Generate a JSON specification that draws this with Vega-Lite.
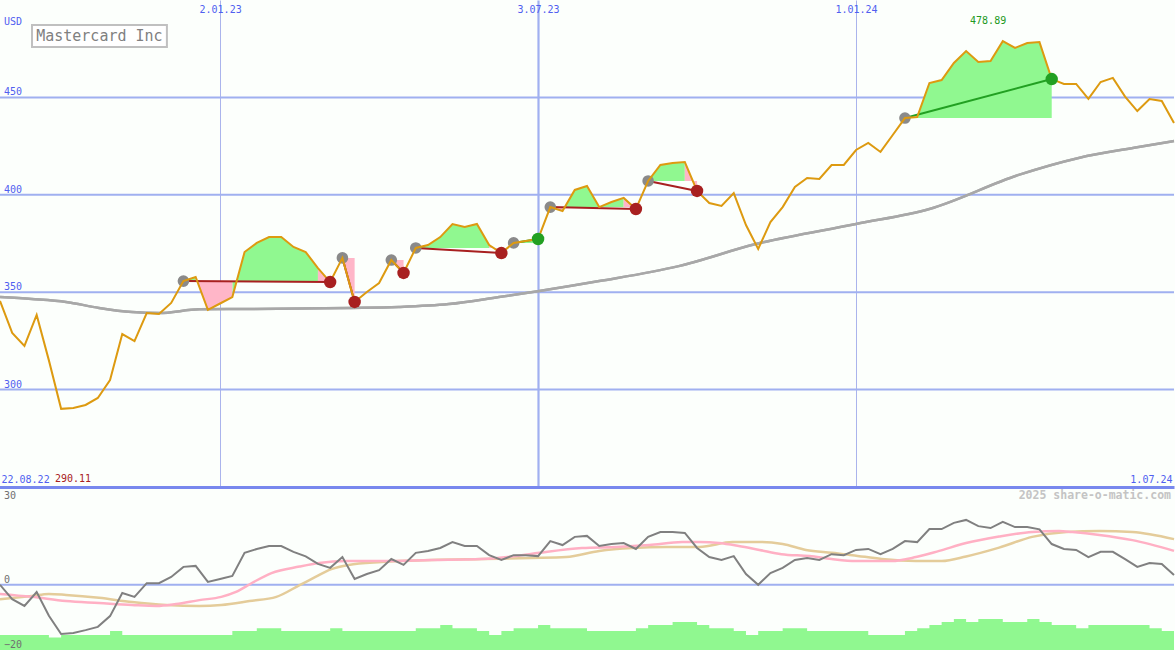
{
"$schema":"https://vega.github.io/schema/vega-lite/v6.json",
"background":"#fcfffc",
"padding":{"left":-6,"top":0,"right":0,"bottom":0},
"spacing":0,
"config":{"view":{"stroke":null},"text":{"font":"DejaVu Sans Mono"}},
"datasets":{
"wk":[
{"w":0,"p":345.5,"m":0,"v":-15.4},{"w":1,"p":329.1,"m":-4.4,"v":-15.4},{"w":2,"p":322.4,"m":-6.5,"v":-15.4},{"w":3,"p":338.3,"m":-2.2,"v":-15.4},{"w":4,"p":315,"m":-9.5,"v":-16.2},{"w":5,"p":290.11,"m":-15.1,"v":-15.4},{"w":6,"p":290.6,"m":-14.8,"v":-15.4},{"w":7,"p":292.1,"m":-13.9,"v":-15.4},{"w":8,"p":295.7,"m":-12.9,"v":-15.4},{"w":9,"p":304.9,"m":-9.6,"v":-14.2},
{"w":10,"p":328.5,"m":-2.5,"v":-15.4},{"w":11,"p":324.9,"m":-3.7,"v":-15.4},{"w":12,"p":339.3,"m":0.5,"v":-15.4},{"w":13,"p":338.8,"m":0.5,"v":-15.4},{"w":14,"p":344.5,"m":2.4,"v":-15.4},{"w":15,"p":355.7,"m":5.5,"v":-15.4},{"w":16,"p":357.8,"m":5.8,"v":-15.4},{"w":17,"p":340.9,"m":0.9,"v":-15.4},{"w":18,"p":344.2,"m":1.8,"v":-15.4},{"w":19,"p":347.5,"m":2.7,"v":-14.2},
{"w":20,"p":370.6,"m":9.8,"v":-14.2},{"w":21,"p":375.3,"m":11,"v":-13.3},{"w":22,"p":378.3,"m":11.9,"v":-13.3},{"w":23,"p":378.3,"m":11.9,"v":-14.2},{"w":24,"p":373.2,"m":10.1,"v":-14.2},{"w":25,"p":370.6,"m":8.7,"v":-14.2},{"w":26,"p":362.4,"m":6.4,"v":-14.2},{"w":27,"p":355.2,"m":5.2,"v":-13.3},{"w":28,"p":367.6,"m":8.5,"v":-14.2},{"w":29,"p":345,"m":1.8,"v":-14.2},
{"w":30,"p":350.1,"m":3.3,"v":-14.2},{"w":31,"p":354.7,"m":4.5,"v":-14.2},{"w":32,"p":366.5,"m":7.9,"v":-14.2},{"w":33,"p":359.9,"m":6.1,"v":-14.2},{"w":34,"p":372.7,"m":9.8,"v":-13.3},{"w":35,"p":374.2,"m":10.4,"v":-13.3},{"w":36,"p":378.3,"m":11.3,"v":-12.3},{"w":37,"p":385,"m":13.1,"v":-13.3},{"w":38,"p":383.5,"m":11.9,"v":-13.3},{"w":39,"p":385,"m":11.9,"v":-14.2},
{"w":40,"p":374.2,"m":9.1,"v":-15.4},{"w":41,"p":370.1,"m":7.6,"v":-14.2},{"w":42,"p":375.3,"m":9.1,"v":-13.3},{"w":43,"p":376.3,"m":9.1,"v":-13.3},{"w":44,"p":377.3,"m":8.8,"v":-12.3},{"w":45,"p":393.7,"m":13.4,"v":-13.3},{"w":46,"p":391.7,"m":12.2,"v":-13.3},{"w":47,"p":402.5,"m":14.7,"v":-13.3},{"w":48,"p":404.5,"m":15,"v":-14.2},{"w":49,"p":393.7,"m":11.9,"v":-14.2},
{"w":50,"p":396.3,"m":12.5,"v":-14.2},{"w":51,"p":398.4,"m":12.8,"v":-14.2},{"w":52,"p":392.7,"m":11,"v":-13.3},{"w":53,"p":407.1,"m":14.7,"v":-12.3},{"w":54,"p":415.3,"m":16.2,"v":-12.3},{"w":55,"p":416.3,"m":16.2,"v":-11.4},{"w":56,"p":416.8,"m":15.9,"v":-11.4},{"w":57,"p":402,"m":11.3,"v":-12.3},{"w":58,"p":395.8,"m":8.5,"v":-13.3},{"w":59,"p":394.3,"m":7.6,"v":-13.3},
{"w":60,"p":400.9,"m":8.8,"v":-14.2},{"w":61,"p":384.5,"m":3.3,"v":-15.4},{"w":62,"p":372.2,"m":0,"v":-14.2},{"w":63,"p":386,"m":3.6,"v":-14.2},{"w":64,"p":393.7,"m":5.2,"v":-13.3},{"w":65,"p":404,"m":7.6,"v":-13.3},{"w":66,"p":408.6,"m":8.2,"v":-14.2},{"w":67,"p":408.1,"m":7.6,"v":-14.2},{"w":68,"p":415.3,"m":9.4,"v":-14.2},{"w":69,"p":415.3,"m":9.1,"v":-14.2},
{"w":70,"p":423,"m":10.7,"v":-14.2},{"w":71,"p":426.6,"m":11,"v":-15.4},{"w":72,"p":422,"m":9.4,"v":-15.4},{"w":73,"p":430.7,"m":11,"v":-15.4},{"w":74,"p":439.4,"m":13.4,"v":-14.2},{"w":75,"p":439.9,"m":13.1,"v":-13.3},{"w":76,"p":457.4,"m":17.1,"v":-12.3},{"w":77,"p":458.9,"m":17.1,"v":-11.4},{"w":78,"p":467.7,"m":19,"v":-10.5},{"w":79,"p":473.8,"m":19.9,"v":-11.4},
{"w":80,"p":468.2,"m":18,"v":-10.5},{"w":81,"p":468.7,"m":17.4,"v":-10.5},{"w":82,"p":478.89,"m":19.3,"v":-11.4},{"w":83,"p":475.4,"m":17.7,"v":-11.4},{"w":84,"p":477.9,"m":17.7,"v":-10.5},{"w":85,"p":478.4,"m":17,"v":-11.4},{"w":86,"p":459.4,"m":12.5,"v":-12.3},{"w":87,"p":456.9,"m":11,"v":-12.3},{"w":88,"p":456.9,"m":10.7,"v":-13.3},{"w":89,"p":449.2,"m":8.5,"v":-12.3},
{"w":90,"p":457.9,"m":10.1,"v":-12.3},{"w":91,"p":460,"m":10.1,"v":-12.3},{"w":92,"p":450.4,"m":7.9,"v":-12.3},{"w":93,"p":443,"m":5.5,"v":-12.3},{"w":94,"p":449.2,"m":6.7,"v":-13.3},{"w":95,"p":448.2,"m":6.4,"v":-14.2},{"w":96,"p":436.9,"m":3,"v":-14.2}
],
"ma":[
{"w":0,"a":347.5},{"w":2.6,"a":346.5},{"w":5.4,"a":345},{"w":8.1,"a":341.9},{"w":10.8,"a":339.8},{"w":13.0,"a":339.3},{"w":16.3,"a":341.2},{"w":20.4,"a":341.4},{"w":28.5,"a":341.9},{"w":32.6,"a":342.4},{"w":36.7,"a":343.9},{"w":40.8,"a":347.5},{"w":44.1,"a":350.6},{"w":49.0,"a":355.7},{"w":55.5,"a":363.4},{"w":61.8,"a":374.7},{"w":70.0,"a":385},{"w":76.0,"a":392.7},{"w":83.3,"a":410.2},{"w":88.2,"a":418.9},{"w":93.1,"a":424.5},{"w":96,"a":427.6}
],
"pk":[
{"w":0,"k":-2.8},{"w":2.6,"k":-3.7},{"w":5.4,"k":-5},{"w":8.1,"k":-5.6},{"w":10.8,"k":-6.2},{"w":12.8,"k":-6.5},{"w":14.4,"k":-5.9},{"w":16.3,"k":-4.7},{"w":18.1,"k":-3.7},{"w":19.3,"k":-2.2},{"w":20.6,"k":0.55},{"w":22.2,"k":3.6},{"w":24.5,"k":5.6},{"w":26.1,"k":6.7},{"w":28.3,"k":7.3},{"w":31.2,"k":7.3},{"w":35.3,"k":7.6},{"w":39.4,"k":7.9},{"w":42.2,"k":8.8},{"w":44.1,"k":9.8},{"w":47.6,"k":11.3},{"w":50.4,"k":11.6},{"w":53.1,"k":12.2},{"w":55.8,"k":13.1},{"w":57.2,"k":13.1},{"w":58.8,"k":12.8},{"w":60.4,"k":11.9},{"w":62.1,"k":10.7},{"w":63.9,"k":9.4},{"w":66.2,"k":8.8},{"w":68.0,"k":7.9},{"w":70.0,"k":7.3},{"w":72.9,"k":7.3},{"w":74.9,"k":8.5},{"w":76.8,"k":10.4},{"w":79.0,"k":12.8},{"w":81.7,"k":14.8},{"w":84.4,"k":16.2},{"w":86.6,"k":16.5},{"w":87.7,"k":16.2},{"w":89.9,"k":15.3},{"w":92.6,"k":13.7},{"w":96,"k":10.4}
],
"tn":[
{"w":0,"t":-4.4},{"w":2.6,"t":-3.4},{"w":4.0,"t":-2.8},{"w":5.4,"t":-3.1},{"w":8.1,"t":-4},{"w":10.8,"t":-5.3},{"w":13.6,"t":-6.2},{"w":16.3,"t":-6.5},{"w":18.1,"t":-6.2},{"w":20.4,"t":-5},{"w":22.6,"t":-3.7},{"w":24.5,"t":-0.1},{"w":25.8,"t":2.4},{"w":27.1,"t":4.8},{"w":28.5,"t":6.1},{"w":31.2,"t":7},{"w":35.3,"t":7.6},{"w":39.4,"t":7.9},{"w":43.5,"t":8.2},{"w":46.3,"t":8.5},{"w":49.0,"t":10.4},{"w":51.7,"t":11.3},{"w":54.5,"t":11.6},{"w":57.2,"t":11.6},{"w":59.9,"t":13.1},{"w":62.3,"t":13.1},{"w":64.0,"t":12.5},{"w":65.9,"t":10.7},{"w":68.0,"t":9.8},{"w":69.7,"t":9.1},{"w":72.1,"t":7.9},{"w":74.9,"t":7.3},{"w":77.0,"t":7.3},{"w":79.0,"t":8.7},{"w":81.7,"t":11.4},{"w":84.4,"t":14.7},{"w":87.2,"t":16.2},{"w":89.9,"t":16.5},{"w":92.6,"t":16.2},{"w":96,"t":14}
],
"tr":[
{"id":1,"w":15,"p":355.7,"kind":"entry","res":"loss"},{"id":1,"w":27,"p":355.2,"kind":"exit","res":"loss"},
{"id":2,"w":28,"p":367.6,"kind":"entry","res":"loss"},{"id":2,"w":29,"p":345,"kind":"exit","res":"loss"},
{"id":3,"w":32,"p":366.5,"kind":"entry","res":"loss"},{"id":3,"w":33,"p":359.9,"kind":"exit","res":"loss"},
{"id":4,"w":34,"p":372.7,"kind":"entry","res":"loss"},{"id":4,"w":41,"p":370.1,"kind":"exit","res":"loss"},
{"id":5,"w":42,"p":375.3,"kind":"entry","res":"win"},{"id":5,"w":44,"p":377.3,"kind":"exit","res":"win"},
{"id":6,"w":45,"p":393.7,"kind":"entry","res":"loss"},{"id":6,"w":52,"p":392.7,"kind":"exit","res":"loss"},
{"id":7,"w":53,"p":407.1,"kind":"entry","res":"loss"},{"id":7,"w":57,"p":402,"kind":"exit","res":"loss"},
{"id":8,"w":74,"p":439.4,"kind":"entry","res":"win"},{"id":8,"w":86,"p":459.4,"kind":"exit","res":"win"}
],
"fl":[
{"s":1,"c":"up","w":15,"p":355.7,"lv":355.7},{"s":1,"c":"up","w":16,"p":357.8,"lv":355.7},
{"s":2,"c":"dn","w":16,"p":357.8,"lv":355.7},{"s":2,"c":"dn","w":17,"p":340.9,"lv":355.7},{"s":2,"c":"dn","w":18,"p":344.2,"lv":355.7},{"s":2,"c":"dn","w":19,"p":347.5,"lv":355.7},
{"s":3,"c":"up","w":19,"p":347.5,"lv":355.7},{"s":3,"c":"up","w":20,"p":370.6,"lv":355.7},{"s":3,"c":"up","w":21,"p":375.3,"lv":355.7},{"s":3,"c":"up","w":22,"p":378.3,"lv":355.7},{"s":3,"c":"up","w":23,"p":378.3,"lv":355.7},{"s":3,"c":"up","w":24,"p":373.2,"lv":355.7},{"s":3,"c":"up","w":25,"p":370.6,"lv":355.7},{"s":3,"c":"up","w":26,"p":362.4,"lv":355.7},
{"s":4,"c":"dn","w":26,"p":362.4,"lv":355.7},{"s":4,"c":"dn","w":27,"p":355.2,"lv":355.7},
{"s":5,"c":"dn","w":28,"p":367.6,"lv":367.6},{"s":5,"c":"dn","w":29,"p":345,"lv":367.6},
{"s":6,"c":"dn","w":32,"p":366.5,"lv":366.5},{"s":6,"c":"dn","w":33,"p":359.9,"lv":366.5},
{"s":7,"c":"up","w":34,"p":372.7,"lv":372.7},{"s":7,"c":"up","w":35,"p":374.2,"lv":372.7},{"s":7,"c":"up","w":36,"p":378.3,"lv":372.7},{"s":7,"c":"up","w":37,"p":385,"lv":372.7},{"s":7,"c":"up","w":38,"p":383.5,"lv":372.7},{"s":7,"c":"up","w":39,"p":385,"lv":372.7},{"s":7,"c":"up","w":40,"p":374.2,"lv":372.7},
{"s":8,"c":"dn","w":40,"p":374.2,"lv":372.7},{"s":8,"c":"dn","w":41,"p":370.1,"lv":372.7},
{"s":9,"c":"up","w":42,"p":375.3,"lv":375.3},{"s":9,"c":"up","w":43,"p":376.3,"lv":375.3},{"s":9,"c":"up","w":44,"p":377.3,"lv":375.3},
{"s":10,"c":"dn","w":45,"p":393.7,"lv":393.7},{"s":10,"c":"dn","w":46,"p":391.7,"lv":393.7},
{"s":11,"c":"up","w":46,"p":391.7,"lv":393.7},{"s":11,"c":"up","w":47,"p":402.5,"lv":393.7},{"s":11,"c":"up","w":48,"p":404.5,"lv":393.7},{"s":11,"c":"up","w":49,"p":393.7,"lv":393.7},{"s":11,"c":"up","w":50,"p":396.3,"lv":393.7},{"s":11,"c":"up","w":51,"p":398.4,"lv":393.7},
{"s":12,"c":"dn","w":51,"p":398.4,"lv":393.7},{"s":12,"c":"dn","w":52,"p":392.7,"lv":393.7},
{"s":13,"c":"up","w":53,"p":407.1,"lv":407.1},{"s":13,"c":"up","w":54,"p":415.3,"lv":407.1},{"s":13,"c":"up","w":55,"p":416.3,"lv":407.1},{"s":13,"c":"up","w":56,"p":416.8,"lv":407.1},
{"s":14,"c":"dn","w":56,"p":416.8,"lv":407.1},{"s":14,"c":"dn","w":57,"p":402,"lv":407.1},
{"s":15,"c":"up","w":74,"p":439.4,"lv":439.4},{"s":15,"c":"up","w":75,"p":439.9,"lv":439.4},{"s":15,"c":"up","w":76,"p":457.4,"lv":439.4},{"s":15,"c":"up","w":77,"p":458.9,"lv":439.4},{"s":15,"c":"up","w":78,"p":467.7,"lv":439.4},{"s":15,"c":"up","w":79,"p":473.8,"lv":439.4},{"s":15,"c":"up","w":80,"p":468.2,"lv":439.4},{"s":15,"c":"up","w":81,"p":468.7,"lv":439.4},{"s":15,"c":"up","w":82,"p":478.89,"lv":439.4},{"s":15,"c":"up","w":83,"p":475.4,"lv":439.4},{"s":15,"c":"up","w":84,"p":477.9,"lv":439.4},{"s":15,"c":"up","w":85,"p":478.4,"lv":439.4},{"s":15,"c":"up","w":86,"p":459.4,"lv":439.4}
],
"yt":[{"v":300},{"v":350},{"v":400},{"v":450}],
"yb":[{"v":-20},{"v":0},{"v":30}]
},
"vconcat":[
{
"width":1175,"height":487,
"resolve":{"axis":{"x":"independent"}},
"layer":[
{"data":{"name":"yt"},
 "mark":{"type":"rule","color":"#a0b0f0","strokeWidth":2},
 "encoding":{"y":{"field":"v","type":"quantitative","scale":{"domain":[250,500],"nice":false,"zero":false},"axis":null}}},
{"data":{"name":"yt"},
 "mark":{"type":"text","font":"DejaVu Sans Mono","fontSize":10,"color":"#5060f0","align":"left","baseline":"alphabetic","dx":5,"dy":-2},
 "encoding":{"x":{"datum":-0.08,"type":"quantitative","axis":null},"y":{"field":"v","type":"quantitative","axis":null},"text":{"field":"v","type":"quantitative","format":"d"}}},
{"data":{"values":[{"t":"USD"}]},
 "mark":{"type":"text","font":"DejaVu Sans Mono","fontSize":10,"color":"#5060f0","align":"left","baseline":"alphabetic","dx":5},
 "encoding":{"x":{"datum":-0.08,"type":"quantitative","axis":null},"y":{"datum":487.2,"type":"quantitative","axis":null},"text":{"field":"t"}}},
{"data":{"name":"ma"},
 "mark":{"type":"line","color":"#a8a8a8","strokeWidth":2.5,"interpolate":"monotone"},
 "encoding":{
  "x":{"field":"w","type":"quantitative","scale":{"domain":[-0.08,96],"nice":false,"zero":false},
   "axis":{"orient":"bottom","values":[-0.08,96],"labelExpr":"datum.value<1?'22.08.22':'1.07.24'","grid":false,"ticks":false,"tickSize":0,"domain":true,"domainColor":"#7888ee","domainWidth":3,"labelPadding":-3,"labelBaseline":"bottom","labelFlush":true,"labelFlushOffset":-2,"labelColor":"#5060f0","labelFont":"DejaVu Sans Mono","labelFontSize":10,"labelBound":false,"labelOverlap":false,"title":null}},
  "y":{"field":"a","type":"quantitative","axis":null}}},
{"data":{"name":"fl"},"transform":[{"filter":"datum.c==='up'"}],
 "mark":{"type":"area","color":"#90f890","opacity":1},
 "encoding":{
  "x":{"field":"w","type":"quantitative",
   "axis":{"orient":"top","values":[18,44,70],"labelExpr":"datum.value==18?'2.01.23':(datum.value==44?'3.07.23':'1.01.24')","grid":true,"gridColor":{"condition":{"test":"datum.value==44","value":"#a0b0f0"},"value":"#aab4ec"},"gridWidth":{"condition":{"test":"datum.value==44","value":2.2},"value":1},"ticks":false,"tickSize":0,"domain":false,"labelPadding":-4,"labelBaseline":"top","labelColor":"#5060f0","labelFont":"DejaVu Sans Mono","labelFontSize":10,"labelBound":false,"labelOverlap":false,"title":null}},
  "y":{"field":"p","type":"quantitative","axis":null},
  "y2":{"field":"lv"},
  "detail":{"field":"s"}}},
{"data":{"name":"fl"},"transform":[{"filter":"datum.c==='dn'"}],
 "mark":{"type":"area","color":"#ffb6c8","opacity":1},
 "encoding":{"x":{"field":"w","type":"quantitative","axis":null},"y":{"field":"p","type":"quantitative","axis":null},"y2":{"field":"lv"},"detail":{"field":"s"}}},
{"data":{"name":"ma"},
 "mark":{"type":"line","color":"#a8a8a8","strokeWidth":2.5,"interpolate":"monotone"},
 "encoding":{"x":{"field":"w","type":"quantitative","axis":null},"y":{"field":"a","type":"quantitative","axis":null}}},
{"data":{"name":"tr"},"transform":[{"filter":"datum.res==='loss'"}],
 "mark":{"type":"line","color":"#a82020","strokeWidth":2},
 "encoding":{"x":{"field":"w","type":"quantitative","axis":null},"y":{"field":"p","type":"quantitative","axis":null},"detail":{"field":"id"}}},
{"data":{"name":"tr"},"transform":[{"filter":"datum.res==='win'"}],
 "mark":{"type":"line","color":"#22a022","strokeWidth":2},
 "encoding":{"x":{"field":"w","type":"quantitative","axis":null},"y":{"field":"p","type":"quantitative","axis":null},"detail":{"field":"id"}}},
{"data":{"name":"tr"},"transform":[{"filter":"datum.kind==='entry'"}],
 "mark":{"type":"circle","color":"#8a8a8a","size":135,"opacity":1},
 "encoding":{"x":{"field":"w","type":"quantitative","axis":null},"y":{"field":"p","type":"quantitative","axis":null}}},
{"data":{"name":"wk"},
 "mark":{"type":"line","color":"#dd9a10","strokeWidth":2},
 "encoding":{"x":{"field":"w","type":"quantitative","axis":null},"y":{"field":"p","type":"quantitative","axis":null}}},
{"data":{"name":"tr"},"transform":[{"filter":"datum.kind==='exit' && datum.res==='loss'"}],
 "mark":{"type":"circle","color":"#a82020","size":155,"opacity":1},
 "encoding":{"x":{"field":"w","type":"quantitative","axis":null},"y":{"field":"p","type":"quantitative","axis":null}}},
{"data":{"name":"tr"},"transform":[{"filter":"datum.kind==='exit' && datum.res==='win'"}],
 "mark":{"type":"circle","color":"#22a022","size":155,"opacity":1},
 "encoding":{"x":{"field":"w","type":"quantitative","axis":null},"y":{"field":"p","type":"quantitative","axis":null}}},
{"data":{"values":[{"t":"Mastercard Inc"}]},
 "mark":{"type":"rect","fill":"#ffffff","stroke":"#c0c0c0","strokeWidth":2},
 "encoding":{"x":{"datum":2.62,"type":"quantitative","axis":null},"x2":{"datum":13.65},"y":{"datum":487.2,"type":"quantitative","axis":null},"y2":{"datum":475.9}}},
{"data":{"values":[{"t":"Mastercard Inc"}]},
 "mark":{"type":"text","font":"DejaVu Sans Mono","fontSize":15,"color":"#808080","align":"center","baseline":"middle"},
 "encoding":{"x":{"datum":8.13,"type":"quantitative","axis":null},"y":{"datum":481.6,"type":"quantitative","axis":null},"text":{"field":"t"}}},
{"data":{"name":"wk"},"transform":[{"aggregate":[{"op":"max","field":"p","as":"mx"}]}],
 "mark":{"type":"text","font":"DejaVu Sans Mono","fontSize":10,"color":"#229922","align":"center","baseline":"middle"},
 "encoding":{"x":{"datum":80.8,"type":"quantitative","axis":null},"y":{"datum":489.2,"type":"quantitative","axis":null},"text":{"field":"mx","type":"quantitative","format":".2f"}}},
{"data":{"name":"wk"},"transform":[{"aggregate":[{"op":"min","field":"p","as":"mn"}]}],
 "mark":{"type":"text","font":"DejaVu Sans Mono","fontSize":10,"color":"#a82020","align":"left","baseline":"bottom","dy":-3},
 "encoding":{"x":{"datum":4.5,"type":"quantitative","axis":null},"y":{"datum":250,"type":"quantitative","axis":null},"text":{"field":"mn","type":"quantitative","format":".2f"}}}
]
},
{
"width":1175,"height":163,
"layer":[
{"data":{"name":"yb"},"transform":[{"filter":"datum.v===0"}],
 "mark":{"type":"rule","color":"#a0b0f0","strokeWidth":2},
 "encoding":{"y":{"field":"v","type":"quantitative","scale":{"domain":[-20,30],"nice":false,"zero":false},"axis":null}}},
{"data":{"name":"wk"},
 "mark":{"type":"area","color":"#90f890","opacity":1,"interpolate":"step-after"},
 "encoding":{
  "x":{"field":"w","type":"quantitative","scale":{"domain":[-0.08,96],"nice":false,"zero":false},
   "axis":{"orient":"bottom","values":[18,44,70],"grid":true,"gridColor":{"condition":{"test":"datum.value==44","value":"#a0b0f0"},"value":"#aab4ec"},"gridWidth":{"condition":{"test":"datum.value==44","value":2.2},"value":1},"labels":false,"ticks":false,"tickSize":0,"domain":false,"title":null}},
  "y":{"field":"v","type":"quantitative","axis":null},"y2":{"datum":-20}}},
{"data":{"name":"yb"},"transform":[{"filter":"datum.v===30"}],
 "mark":{"type":"text","font":"DejaVu Sans Mono","fontSize":10,"color":"#707070","align":"left","baseline":"top","dx":5,"dy":4},
 "encoding":{"x":{"datum":-0.08,"type":"quantitative","axis":null},"y":{"field":"v","type":"quantitative","axis":null},"text":{"field":"v","type":"quantitative","format":"d"}}},
{"data":{"name":"yb"},"transform":[{"filter":"datum.v!==30"}],
 "mark":{"type":"text","font":"DejaVu Sans Mono","fontSize":10,"color":"#707070","align":"left","baseline":"alphabetic","dx":5,"dy":-2},
 "encoding":{"x":{"datum":-0.08,"type":"quantitative","axis":null},"y":{"field":"v","type":"quantitative","axis":null},"text":{"field":"v","type":"quantitative","format":"d"}}},
{"data":{"name":"tn"},
 "mark":{"type":"line","color":"#e4cc9a","strokeWidth":2.5,"interpolate":"monotone"},
 "encoding":{"x":{"field":"w","type":"quantitative","axis":null},"y":{"field":"t","type":"quantitative","axis":null}}},
{"data":{"name":"pk"},
 "mark":{"type":"line","color":"#ffb0c4","strokeWidth":2.5,"interpolate":"monotone"},
 "encoding":{"x":{"field":"w","type":"quantitative","axis":null},"y":{"field":"k","type":"quantitative","axis":null}}},
{"data":{"name":"wk"},
 "mark":{"type":"line","color":"#808080","strokeWidth":2},
 "encoding":{"x":{"field":"w","type":"quantitative","axis":null},"y":{"field":"m","type":"quantitative","axis":null}}},
{"data":{"values":[{"t":"2025 share-o-matic.com"}]},
 "mark":{"type":"text","font":"DejaVu Sans Mono","fontSize":11.5,"fontWeight":"bold","color":"#c4c4c4","align":"right","baseline":"top","dx":-3,"dy":3},
 "encoding":{"x":{"datum":96,"type":"quantitative","axis":null},"y":{"datum":30,"type":"quantitative","axis":null},"text":{"field":"t"}}}
]
}
]
}
